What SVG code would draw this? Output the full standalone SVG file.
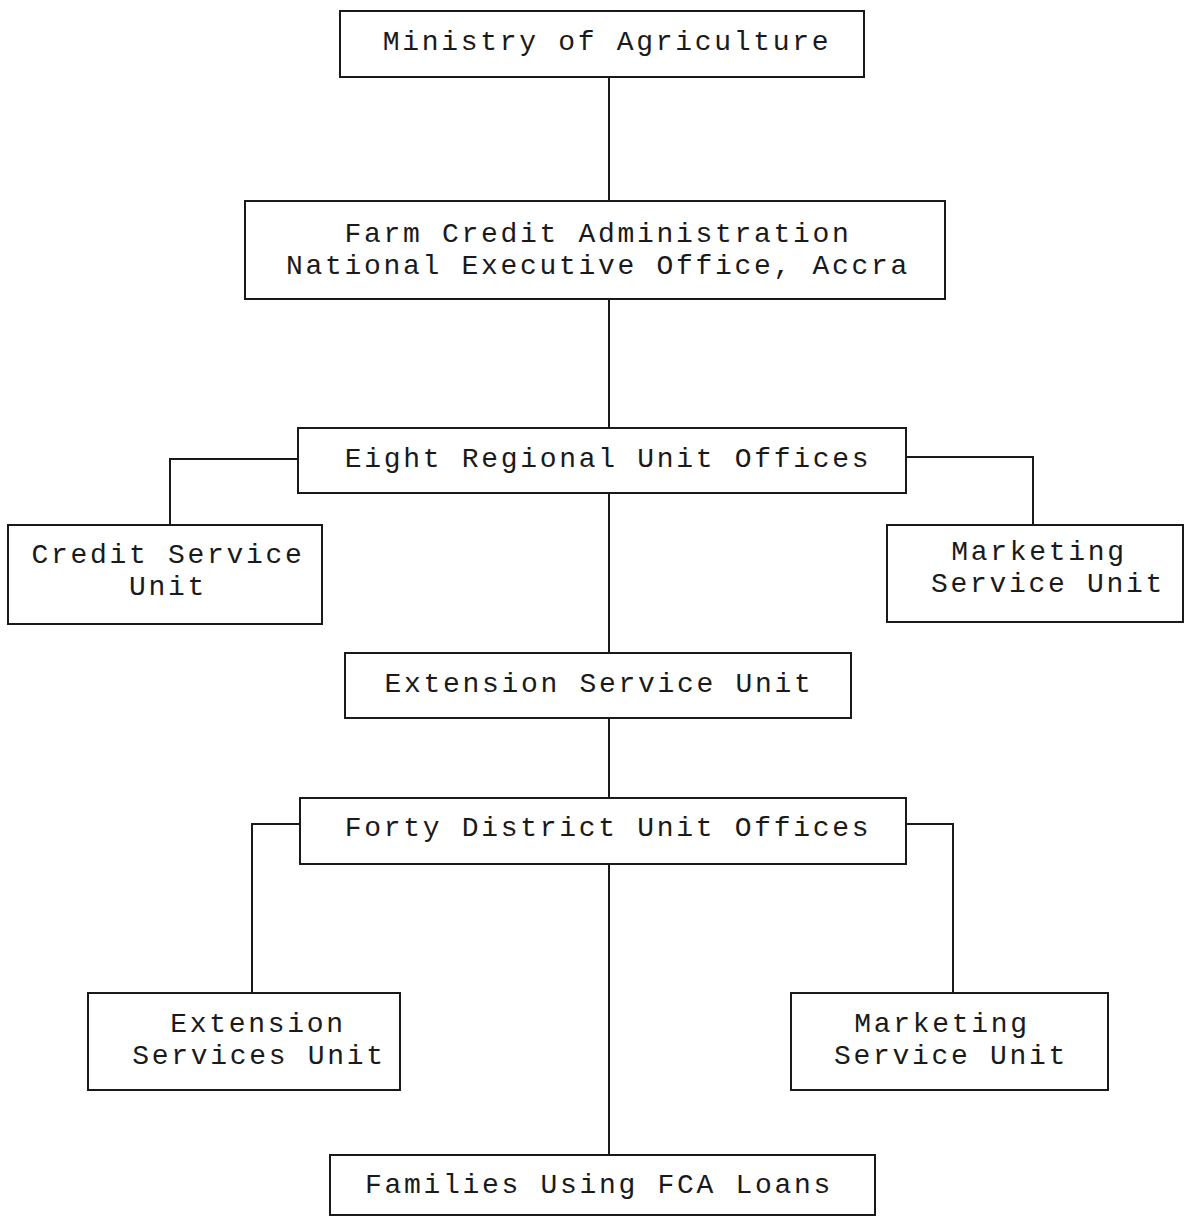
<svg xmlns="http://www.w3.org/2000/svg" width="1189" height="1218" viewBox="0 0 1189 1218">
<style>
.box{fill:none;stroke:#1a1a1a;stroke-width:2}
.ln{fill:none;stroke:#1a1a1a;stroke-width:2}
text{font-family:"Liberation Mono","DejaVu Sans Mono",monospace;font-size:28px;letter-spacing:2.7px;fill:#1a1a1a;text-anchor:middle}
</style>
<rect width="1189" height="1218" fill="#fff"/>
<g id="connectors">
<line class="ln" x1="609" y1="78" x2="609" y2="201"/>
<line class="ln" x1="609" y1="299" x2="609" y2="428"/>
<polyline class="ln" points="298,459 170,459 170,525"/>
<polyline class="ln" points="906,457 1033,457 1033,525"/>
<line class="ln" x1="609" y1="493" x2="609" y2="653"/>
<line class="ln" x1="609" y1="718" x2="609" y2="798"/>
<polyline class="ln" points="300,824 252,824 252,993"/>
<polyline class="ln" points="906,824 953,824 953,993"/>
<line class="ln" x1="609" y1="864" x2="609" y2="1155"/>
</g>
<g id="ministry">
<rect class="box" x="340" y="11" width="524" height="66"/>
<text x="607" y="50">Ministry of Agriculture</text>
</g>
<g id="fca">
<rect class="box" x="245" y="201" width="700" height="98"/>
<text x="598" y="242">Farm Credit Administration</text>
<text x="598" y="274">National Executive Office, Accra</text>
</g>
<g id="regional">
<rect class="box" x="298" y="428" width="608" height="65"/>
<text x="608" y="467">Eight Regional Unit Offices</text>
</g>
<g id="credit">
<rect class="box" x="8" y="525" width="314" height="99"/>
<text x="168" y="563">Credit Service</text>
<text x="168" y="595">Unit</text>
</g>
<g id="marketing1">
<rect class="box" x="887" y="525" width="296" height="97"/>
<text x="1039" y="560">Marketing</text>
<text x="1048" y="592">Service Unit</text>
</g>
<g id="extension">
<rect class="box" x="345" y="653" width="506" height="65"/>
<text x="599" y="692">Extension Service Unit</text>
</g>
<g id="district">
<rect class="box" x="300" y="798" width="606" height="66"/>
<text x="608" y="836">Forty District Unit Offices</text>
</g>
<g id="extservices">
<rect class="box" x="88" y="993" width="312" height="97"/>
<text x="258" y="1032">Extension</text>
<text x="259" y="1064">Services Unit</text>
</g>
<g id="marketing2">
<rect class="box" x="791" y="993" width="317" height="97"/>
<text x="942" y="1032">Marketing</text>
<text x="951" y="1064">Service Unit</text>
</g>
<g id="families">
<rect class="box" x="330" y="1155" width="545" height="60"/>
<text x="599" y="1193">Families Using FCA Loans</text>
</g>
</svg>
